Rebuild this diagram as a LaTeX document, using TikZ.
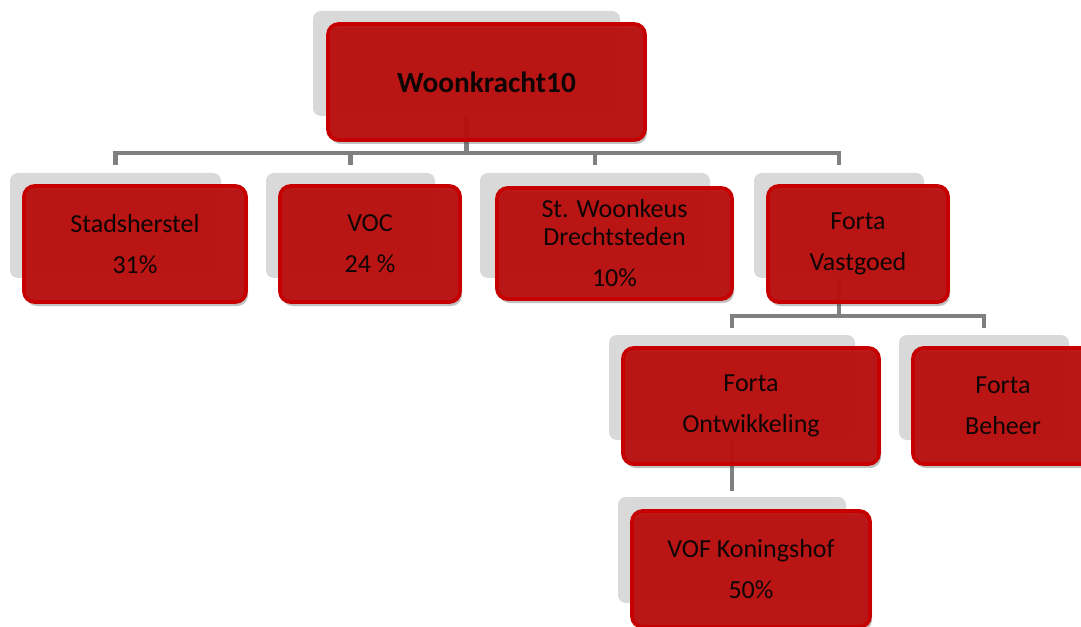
\documentclass[tikz,border=0pt]{standalone}
\usepackage{fontspec}
\setmainfont{Carlito}
\usetikzlibrary{shadows}
\definecolor{boxred}{RGB}{186,14,14}
\definecolor{boxedge}{RGB}{198,0,0}
\definecolor{backgray}{RGB}{217,217,217}
\definecolor{conngray}{RGB}{128,128,128}
\definecolor{txt}{RGB}{15,5,5}
\tikzset{
  backbox/.style={rectangle, rounded corners=6pt, fill=backgray, draw=none, inner sep=0pt},
  unit/.style={rectangle, rounded corners=8pt, fill=boxred, fill opacity=0.95, text opacity=1,
    draw=boxedge, line width=2.8pt, inner sep=2pt, align=center, text=txt,
    font=\fontsize{19.5}{30.75}\selectfont,
    drop shadow={shadow xshift=1.5pt, shadow yshift=-3pt, opacity=0.35, fill=black!70}},
  conn/.style={draw=conngray, line width=3.2pt}
}
\begin{document}
\begin{tikzpicture}[x=0.75pt,y=-0.75pt]
\useasboundingbox (0,0) rectangle (1081,627);
\clip (0,0) rectangle (1081,627);
% grey back plates
\node[backbox, minimum width=230.25pt, minimum height=78.75pt] (topg) at (466.5,63.5) {};
\node[backbox, minimum width=158.25pt, minimum height=78.75pt] (sg) at (115.5,225.5) {};
\node[backbox, minimum width=126.75pt, minimum height=78.75pt] (vg) at (350.5,225.5) {};
\node[backbox, minimum width=172.5pt, minimum height=78.75pt] (wg) at (595,225.5) {};
\node[backbox, minimum width=127.5pt, minimum height=78.75pt] (fvg) at (839,225.5) {};
\node[backbox, minimum width=184.5pt, minimum height=78.75pt] (fog) at (732,387.5) {};
\node[backbox, minimum width=127.5pt, minimum height=78.75pt] (fbg) at (984,387.5) {};
\node[backbox, minimum width=171pt, minimum height=79.5pt] (vofg) at (732,550) {};
% connectors
\draw[conn] (topg.south) -- ++(0,37) -| ([yshift=6pt]sg.north);
\draw[conn] (topg.south) -- ++(0,37) -| ([yshift=6pt]vg.north);
\draw[conn] (topg.south) -- ++(0,37) -| ([yshift=6pt]wg.north);
\draw[conn] (topg.south) -- ++(0,37) -| ([yshift=6pt]fvg.north);
\draw[conn] (fvg.south) -- ++(0,38) -| ([yshift=5pt]fog.north);
\draw[conn] (fvg.south) -- ++(0,38) -| ([yshift=5pt]fbg.north);
\draw[conn] (fog.south) -- ([yshift=4pt]vofg.north);
% red units
\node[unit, minimum width=237.75pt, minimum height=87pt, font=\fontsize{22}{30.75}\selectfont\bfseries] (top) at (486.5,82) {Woonkracht10};
\node[unit, minimum width=166.5pt, minimum height=87pt] (s) at (135,244) {Stadsherstel\\31\%};
\node[unit, minimum width=135pt, minimum height=87pt] (v) at (370,244) {VOC\\24 \%};
\node[unit, minimum width=176.25pt, minimum height=83.25pt] (w) at (614.5,243.5) {St. Woonkeus\\[-9.75pt]Drechtsteden\\10\%};
\node[unit, minimum width=135pt, minimum height=87pt] (fv) at (858,244) {Forta\\Vastgoed};
\node[unit, minimum width=192pt, minimum height=87pt] (fo) at (751,406) {Forta\\Ontwikkeling};
\node[unit, minimum width=135pt, minimum height=87pt] (fb) at (1003,406) {Forta\\Beheer};
\node[unit, minimum width=178.5pt, minimum height=87pt] (vof) at (751,569) {VOF Koningshof\\50\%};
\end{tikzpicture}
\end{document}
